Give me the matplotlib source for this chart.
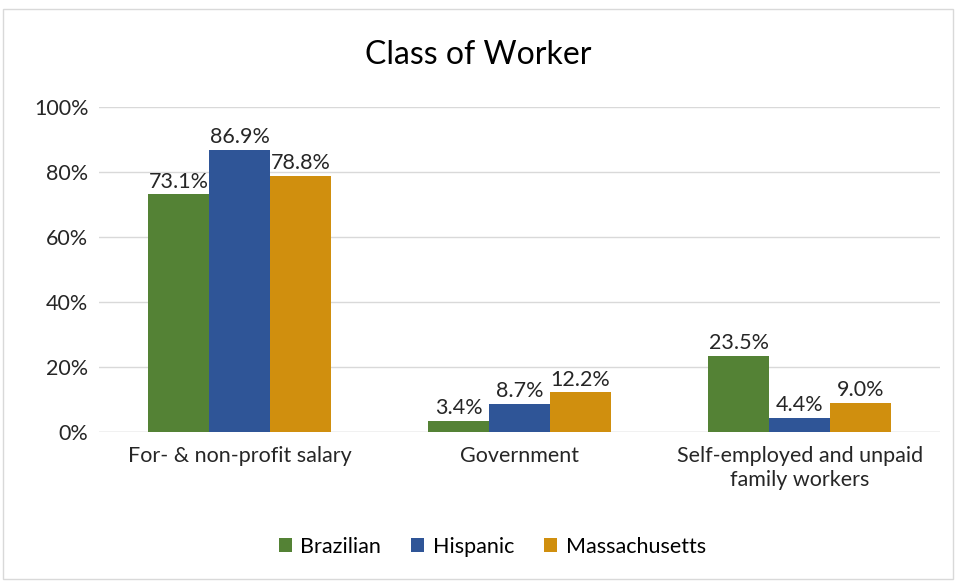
import numpy as np
import matplotlib.pyplot as plt
from matplotlib.patches import Rectangle

categories = ["For- & non-profit salary", "Government", "Self-employed and unpaid\nfamily workers"]
series = ["Brazilian", "Hispanic", "Massachusetts"]
brazilian = [73.1, 3.4, 23.5]
hispanic = [86.9, 8.7, 4.4]
massachusetts = [78.8, 12.2, 9.0]
colors = ["#548235", "#2F5597", "#D08F0E"]

plt.rcParams['font.family'] = ['Lato', 'DejaVu Sans']

fig = plt.figure(figsize=(9.56, 5.81), dpi=100)
ax = fig.add_axes([0.104, 0.2565, 0.879, 0.5594])

x = np.arange(len(categories))
w = 0.218
for i, (vals, name) in enumerate(zip([brazilian, hispanic, massachusetts], series)):
    bars = ax.bar(x + (i - 1) * w, vals, w, color=colors[i], label=name, zorder=3)
    ax.bar_label(bars, labels=[f"{v:.1f}%" for v in vals], padding=2,
                 fontsize=15.5, color="#262626")

ax.set_xlim(-0.5, 2.5)
ax.set_ylim(0, 100)
ax.set_yticks(range(0, 101, 20))
ax.set_yticklabels([f"{v}%" for v in range(0, 101, 20)])
ax.set_xticks(x)
ax.set_xticklabels(categories, linespacing=1.25)
ax.tick_params(length=0, labelsize=15.5, labelcolor="#262626")
ax.tick_params(axis='x', pad=10)
ax.tick_params(axis='y', pad=8)
ax.grid(axis='y', color="#d9d9d9", linewidth=1, zorder=0)
for s in ax.spines.values():
    s.set_visible(False)
ax.axhline(0, color="#d9d9d9", linewidth=1, zorder=2)

fig.text(0.5, 0.905, "Class of Worker", ha='center', va='center', fontsize=23, color="#000000")

fig.legend(loc='center', bbox_to_anchor=(0.515, 0.059), ncol=3, frameon=False,
           fontsize=15.5, handlelength=0.6, handleheight=0.6, handletextpad=0.4,
           columnspacing=1.4)

fig.patches.append(Rectangle((0.003, 0.003), 0.994, 0.982, transform=fig.transFigure,
                             fill=False, edgecolor="#d9d9d9", linewidth=1))

fig.savefig("out.png", dpi=100)
